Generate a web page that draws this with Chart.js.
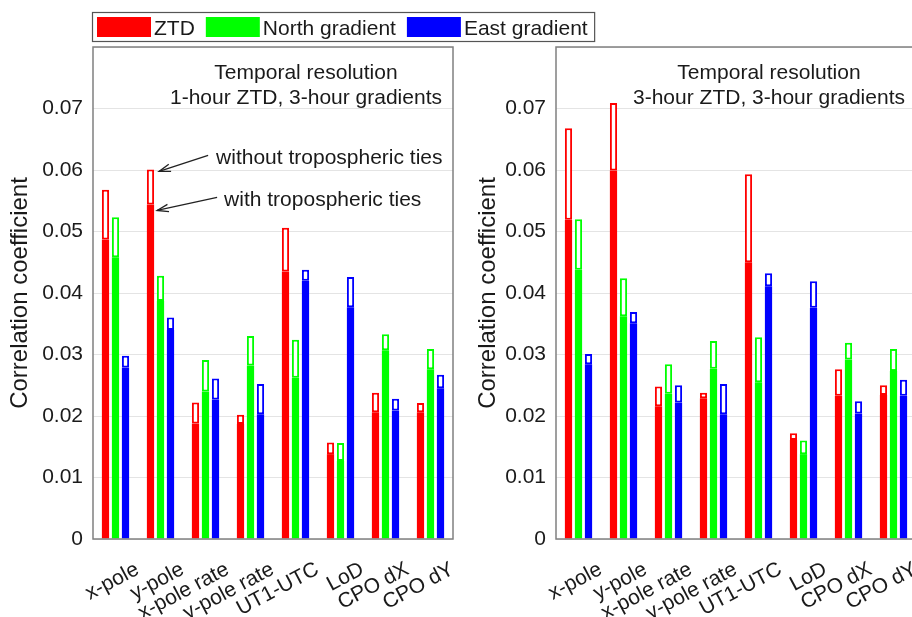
<!DOCTYPE html>
<html><head><meta charset="utf-8">
<script src="https://cdn.jsdelivr.net/npm/chart.js@4"></script>
<style>
html,body{margin:0;padding:0;background:#fff;overflow:hidden;width:912px;height:617px;position:relative;}
#c1{position:absolute;left:0;top:0;z-index:2}
#c2{position:absolute;left:460px;top:0;z-index:1}
</style></head><body>
<canvas id="c1" width="690" height="617"></canvas>
<canvas id="c2" width="460" height="617"></canvas>
<script>
// ---- data ----
const categories = ['x-pole','y-pole','x-pole rate','y-pole rate','UT1-UTC','LoD','CPO dX','CPO dY'];
const seriesNames = ['ZTD','North gradient','East gradient'];
const yTicks = [0,0.01,0.02,0.03,0.04,0.05,0.06,0.07];

// Panel 1: 1-hour ZTD, 3-hour gradients
const ztdWith1     = [0.0487,0.0544,0.0188,0.0187,0.0435,0.0138,0.0206,0.0206];
const ztdWithout1  = [0.0568,0.0601,0.0222,0.0202,0.0506,0.0157,0.0238,0.0221];
const northWith1   = [0.0458,0.0387,0.0240,0.0282,0.0262,0.0127,0.0307,0.0276];
const northWithout1= [0.0523,0.0428,0.0291,0.0330,0.0324,0.0156,0.0333,0.0309];
const eastWith1    = [0.0279,0.0340,0.0227,0.0203,0.0420,0.0377,0.0209,0.0245];
const eastWithout1 = [0.0298,0.0360,0.0261,0.0252,0.0438,0.0426,0.0228,0.0267];

// Panel 2: 3-hour ZTD, 3-hour gradients
const ztdWith3     = [0.0519,0.0599,0.0216,0.0229,0.0450,0.0161,0.0233,0.0234];
const ztdWithout3  = [0.0668,0.0709,0.0248,0.0238,0.0593,0.0172,0.0276,0.0250];
const northWith3   = [0.0438,0.0362,0.0236,0.0277,0.0255,0.0138,0.0292,0.0273];
const northWithout3= [0.0520,0.0424,0.0284,0.0322,0.0328,0.0160,0.0319,0.0309];
const eastWith3    = [0.0284,0.0351,0.0222,0.0203,0.0411,0.0376,0.0204,0.0233];
const eastWithout3 = [0.0301,0.0369,0.0250,0.0252,0.0432,0.0419,0.0224,0.0259];

const panelTitle1 = ['Temporal resolution','1-hour ZTD, 3-hour gradients'];
const panelTitle2 = ['Temporal resolution','3-hour ZTD, 3-hour gradients'];
const annWithout = 'without tropospheric ties';
const annWith = 'with tropospheric ties';

// ---- styles ----
const COLORS = ['#ff0000','#00ff00','#0000ff'];
const FONT = "'Liberation Sans', Arial, sans-serif";
const TXT = '#1a1a1a';

function makeDatasets(withArr, withoutArr){
  const ds = [];
  for (let s=0;s<3;s++){
    ds.push({label: seriesNames[s], data: withArr[s].map(v=>[0,v]),
      backgroundColor: COLORS[s], borderWidth:0, stack:'s'+s});
    ds.push({label: seriesNames[s]+' without ties', data: withArr[s].map((v,i)=>[v, withoutArr[s][i]]),
      backgroundColor:'#ffffff', borderColor: COLORS[s], borderWidth:2, borderSkipped:false, stack:'s'+s});
  }
  return ds;
}

const boxPlugin = {
  id:'box',
  afterDraw(chart){
    const {ctx, chartArea:a} = chart;
    ctx.save();
    ctx.strokeStyle='#808080'; ctx.lineWidth=1.5;
    ctx.strokeRect(a.left, a.top, a.right-a.left, a.bottom-a.top);
    const lines = chart.options.plugins.panelText.lines;
    ctx.fillStyle = TXT; ctx.font = '21px '+FONT; ctx.textAlign='center'; ctx.textBaseline='alphabetic';
    const cx = a.left + 213;
    ctx.fillText(lines[0], cx, a.top+32);
    ctx.fillText(lines[1], cx, a.top+57);
    ctx.restore();
  }
};

function arrow(ctx, x0,y0,x1,y1){
  ctx.beginPath(); ctx.moveTo(x0,y0); ctx.lineTo(x1,y1); ctx.stroke();
  const ang = Math.atan2(y1-y0, x1-x0);
  const L = 12, h = 0.32;
  ctx.beginPath();
  ctx.moveTo(x1 - L*Math.cos(ang-h), y1 - L*Math.sin(ang-h));
  ctx.lineTo(x1,y1);
  ctx.lineTo(x1 - L*Math.cos(ang+h), y1 - L*Math.sin(ang+h));
  ctx.stroke();
}

const annotPlugin = {
  id:'annot',
  afterDraw(chart){
    const ctx = chart.ctx;
    const outline = chart.getDatasetMeta(1).data[1];
    const y = chart.scales.y;
    const right = outline.x + outline.width/2;
    const t1 = {x: right+5, y: y.getPixelForValue(ztdWithout1[1])+2};
    const t2 = {x: right+3, y: y.getPixelForValue(ztdWith1[1])+6};
    ctx.save();
    ctx.strokeStyle='#222'; ctx.lineWidth=1.3;
    arrow(ctx, t1.x+49, t1.y-16, t1.x, t1.y);
    arrow(ctx, t2.x+60, t2.y-13, t2.x, t2.y);
    ctx.fillStyle=TXT; ctx.font='21px '+FONT; ctx.textAlign='left'; ctx.textBaseline='alphabetic';
    ctx.fillText(annWithout, t1.x+57, t1.y-7);
    ctx.fillText(annWith, t2.x+67, t2.y-4);
    ctx.restore();
  }
};

const legendPlugin = {
  id:'legendBox',
  afterDraw(chart){
    const ctx = chart.ctx;
    ctx.save();
    ctx.font='21px '+FONT; ctx.textBaseline='alphabetic'; ctx.textAlign='left';
    let x = 97;
    for (let s=0;s<3;s++){
      ctx.fillStyle = COLORS[s];
      ctx.fillRect(x, 17, 54, 20);
      x += 57;
      ctx.fillStyle = TXT;
      ctx.fillText(seriesNames[s], x, 35);
      x += ctx.measureText(seriesNames[s]).width + 11;
    }
    const rightEdge = x - 11 + 7;
    ctx.strokeStyle='#555'; ctx.lineWidth=1.2;
    ctx.strokeRect(92.5, 12.5, rightEdge-92.5, 29);
    ctx.restore();
  }
};

function makeChart(id, withArr, withoutArr, titleLines, yWidth, padRight, titlePad, extraPlugins){
  return new Chart(document.getElementById(id), {
    type:'bar',
    data:{labels: categories, datasets: makeDatasets(withArr, withoutArr)},
    options:{
      responsive:false, animation:false, devicePixelRatio:1,
      layout:{padding:{top:47, right:padRight, left:0, bottom:0}},
      datasets:{bar:{categoryPercentage:0.667, barPercentage:0.72, grouped:true}},
      plugins:{legend:{display:false}, tooltip:{enabled:false}, panelText:{lines:titleLines}},
      scales:{
        x:{stacked:true, grid:{display:false}, border:{display:false},
           ticks:{font:{family:FONT,size:21}, color:TXT, minRotation:28, maxRotation:28, autoSkip:false, padding:10, labelOffset:22},
           afterFit(s){ s.height = 78; }},
        y:{stacked:false, min:0, max:0.08,
           afterBuildTicks(s){ s.ticks = yTicks.concat([0.08]).map(v=>({value:v})); },
           ticks:{font:{family:FONT,size:21}, color:TXT, padding:10,
             callback:(v)=> (Math.abs(v-0.08)<1e-9 ? '' : (v===0 ? '0' : Number(v).toFixed(2)))},
           grid:{color:'#e4e4e4', lineWidth:1, drawTicks:false},
           border:{display:false},
           title:{display:true, text:'Correlation coefficient', font:{family:FONT,size:24}, color:TXT, padding:{top:titlePad,bottom:0}},
           afterFit(s){ s.width = yWidth; }}
      }
    },
    plugins:[boxPlugin].concat(extraPlugins)
  });
}

makeChart('c1', [ztdWith1,northWith1,eastWith1], [ztdWithout1,northWithout1,eastWithout1], panelTitle1, 93, 237, 6, [annotPlugin, legendPlugin]);
makeChart('c2', [ztdWith3,northWith3,eastWith3], [ztdWithout3,northWithout3,eastWithout3], panelTitle2, 96, 4, 14, []);
</script>
</body></html>
